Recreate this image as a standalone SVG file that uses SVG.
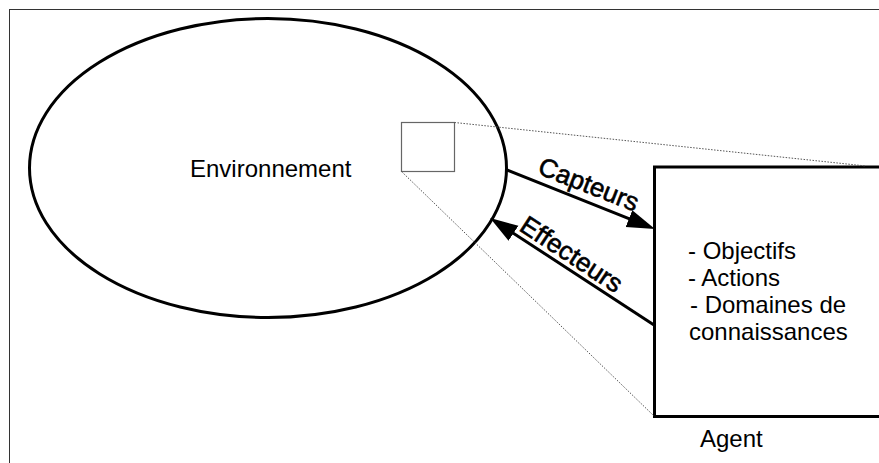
<svg xmlns="http://www.w3.org/2000/svg" width="879" height="463" viewBox="0 0 879 463">
  <style>
    .txt { font-family: "Liberation Sans", Arial, sans-serif; font-size: 24px; fill: #000; }
    .lbl { font-family: "Liberation Sans", Arial, sans-serif; font-size: 26px; fill: #000; stroke: #000; stroke-width: 0.6; }
    .thick { fill: none; stroke: #000; stroke-width: 3; }
    .dot { fill: none; stroke: #555; stroke-width: 1; stroke-dasharray: 1.5 1.5; }
    .arrow { stroke: #000; stroke-width: 3; fill: none; marker-end: url(#head); }
  </style>
  <defs>
    <marker id="head" markerUnits="userSpaceOnUse" markerWidth="28" markerHeight="20" refX="8" refY="10" orient="auto">
      <path d="M0,1 L28,10 L0,19 z" fill="#000"/>
    </marker>
  </defs>
  <rect width="879" height="463" fill="#fff"/>
  <!-- outer frame -->
  <rect x="9.5" y="9.5" width="900" height="500" fill="none" stroke="#333" stroke-width="1"/>

  <g id="environnement">
    <ellipse class="thick" cx="268" cy="168" rx="238.5" ry="149.5"/>
    <text class="txt" x="190" y="177">Environnement</text>
  </g>

  <g id="zoom-region">
    <rect x="401.5" y="122.5" width="53" height="49" fill="none" stroke="#666" stroke-width="1.2"/>
  </g>

  <g id="agent">
    <rect class="thick" x="654.5" y="167" width="260" height="249.5"/>
    <text class="txt" x="688" y="259">- Objectifs</text>
    <text class="txt" x="688" y="286">- Actions</text>
    <text class="txt" x="690" y="313">- Domaines de</text>
    <text class="txt" x="689" y="340">connaissances</text>
    <text class="txt" x="700" y="447">Agent</text>
  </g>

  <g id="connectors">
    <line class="dot" x1="454.5" y1="122.5" x2="866" y2="166"/>
    <line class="dot" x1="401.5" y1="171.5" x2="654" y2="416"/>
    <line class="arrow" x1="507" y1="170" x2="636.4" y2="221.6"/>
    <line class="arrow" x1="654" y1="325" x2="506.8" y2="228.9"/>
    <text class="lbl" transform="translate(536.5,173.3) rotate(21.4)">Capteurs</text>
    <text class="lbl" transform="translate(518,229.7) rotate(33.3)">Effecteurs</text>
  </g>
</svg>
